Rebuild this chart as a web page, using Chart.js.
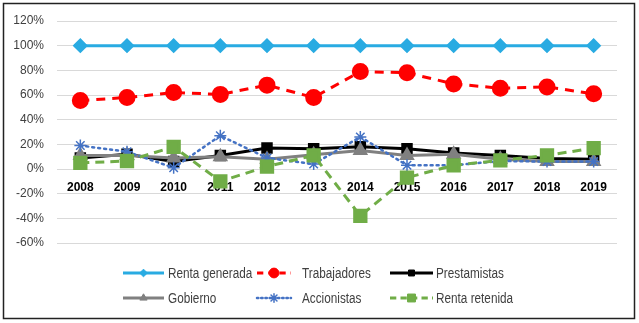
<!DOCTYPE html>
<html>
<head>
<meta charset="utf-8">
<script src="https://cdn.jsdelivr.net/npm/chart.js@4/dist/chart.umd.min.js"></script>
<style>
  html, body { margin: 0; padding: 0; background: #fff; }
  #wrap { width: 639px; height: 323px; position: relative; }
</style>
</head>
<body>
<div id="wrap"><canvas id="chart"></canvas></div>
<script>
"use strict";

// Categories and series (percent)
var years = ['2008', '2009', '2010', '2011', '2012', '2013', '2014', '2015', '2016', '2017', '2018', '2019'];
var rentaGenerada = [100, 100, 100, 100, 100, 100, 100, 100, 100, 100, 100, 100];
var trabajadores = [55.5, 58, 62, 60.5, 68, 58, 79, 78, 69, 65.5, 66.5, 61];
var prestamistas = [9, 12, 6, 11, 17, 16.5, 18, 16.5, 13, 11, 8.5, 8];
var gobierno = [11, 11, 9, 10, 8, 11.5, 15, 11, 12, 8, 6, 6];
var accionistas = [19, 14, 1, 27, 9, 4, 26, 3, 3, 6.5, 6, 6];
var rentaRetenida = [5, 6.5, 18, -10, 2, 11, -38, -7, 3, 7, 11, 17];
var yTicks = [-60, -40, -20, 0, 20, 40, 60, 80, 100, 120];

var FONT = "'Liberation Sans Narrow', 'Arial Narrow', 'Liberation Sans', sans-serif";

var datasets = [
    { label: 'Renta generada', data: rentaGenerada, borderColor: '#29ABE2', backgroundColor: '#29ABE2',
      borderWidth: 3, pointStyle: 'rectRot', pointRadius: 5.5, order: 6 },
    { label: 'Trabajadores', data: trabajadores, borderColor: '#FF0000', backgroundColor: '#FF0000',
      borderWidth: 3, borderDash: [9, 7], pointStyle: 'circle', pointRadius: 7, order: 5 },
    { label: 'Prestamistas', data: prestamistas, borderColor: '#000000', backgroundColor: '#000000',
      borderWidth: 3, pointStyle: 'rect', pointRadius: 6, order: 4 },
    { label: 'Gobierno', data: gobierno, borderColor: '#808080', backgroundColor: '#808080',
      borderWidth: 3, pointStyle: 'triangle', pointRadius: 6, order: 3 },
    { label: 'Accionistas', data: accionistas, borderColor: '#4472C4', backgroundColor: '#4472C4',
      borderWidth: 2.5, borderDash: [2, 4], borderCapStyle: 'round', pointStyle: 'star', pointRadius: 6,
      pointBorderWidth: 1.5, order: 2 },
    { label: 'Renta retenida', data: rentaRetenida, borderColor: '#70AD47', backgroundColor: '#70AD47',
      borderWidth: 3, borderDash: [9, 6], pointStyle: 'rect', pointRadius: 8, order: 1 }
];
datasets.forEach(function (d) {
    d.pointBackgroundColor = d.backgroundColor;
    d.pointBorderColor = d.borderColor;
    d.tension = 0;
});

// Legend laid out in a fixed grid like the original
var legendCols = [{ x0: 123, x1: 164, tx: 168 }, { x0: 257, x1: 291, tx: 302 }, { x0: 390, x1: 433, tx: 436 }];
var legendRows = [273, 298];

var boxPlugin = {
    id: 'frameAndLegend',
    afterDraw: function (chart) {
        var ctx = chart.ctx;
        ctx.save();
        ctx.strokeStyle = '#222';
        ctx.lineWidth = 1.5;
        ctx.strokeRect(3.5, 3.5, 631, 315);

        chart.data.datasets.forEach(function (ds, i) {
            var col = legendCols[i % 3];
            var y = legendRows[Math.floor(i / 3)];
            ctx.save();
            ctx.strokeStyle = ds.borderColor;
            ctx.lineWidth = ds.borderWidth;
            ctx.lineCap = ds.borderCapStyle || 'butt';
            ctx.setLineDash(ds.borderDash ? ds.borderDash.map(function (v) { return v * 0.7; }) : []);
            ctx.beginPath();
            ctx.moveTo(col.x0, y);
            ctx.lineTo(col.x1, y);
            ctx.stroke();
            ctx.setLineDash([]);
            ctx.fillStyle = ds.backgroundColor;
            ctx.strokeStyle = ds.borderColor;
            ctx.lineWidth = ds.pointBorderWidth || 1;
            Chart.helpers.drawPoint(ctx, {
                pointStyle: ds.pointStyle,
                radius: ds.pointRadius * 0.7,
                rotation: 0,
                borderWidth: ds.pointBorderWidth || 1
            }, (col.x0 + col.x1) / 2, y);
            ctx.restore();

            // narrow-looking text: squeeze horizontally
            ctx.save();
            ctx.translate(col.tx, y);
            ctx.scale(0.84, 1);
            ctx.fillStyle = '#404040';
            ctx.font = '14px ' + FONT;
            ctx.textBaseline = 'middle';
            ctx.textAlign = 'left';
            ctx.fillText(ds.label, 0, 1);
            ctx.restore();
        });
        ctx.restore();
    }
};

new Chart(document.getElementById('chart'), {
    type: 'line',
    data: { labels: years, datasets: datasets },
    plugins: [boxPlugin],
    options: {
        responsive: true,
        maintainAspectRatio: false,
        animation: false,
        layout: { padding: { left: 0, right: 22, top: 21, bottom: 80 } },
        plugins: {
            legend: { display: false },
            tooltip: { enabled: false }
        },
        scales: {
            x: {
                position: { y: 0 },
                offset: true,
                grid: { display: false, drawTicks: false },
                border: { display: false },
                ticks: {
                    color: '#000',
                    padding: 11,
                    maxRotation: 0,
                    font: { family: FONT, size: 12, weight: 'bold' }
                }
            },
            y: {
                min: -60,
                max: 120,
                afterFit: function (scale) { scale.width = 57; },
                afterBuildTicks: function (scale) {
                    scale.ticks = yTicks.map(function (v) { return { value: v }; });
                },
                grid: { color: '#D9D9D9', lineWidth: 1, drawTicks: false },
                border: { display: false },
                ticks: {
                    color: '#404040',
                    padding: 13,
                    font: { family: FONT, size: 12 },
                    callback: function (v) { return v + '%'; }
                }
            }
        }
    }
});
</script>
</body>
</html>
